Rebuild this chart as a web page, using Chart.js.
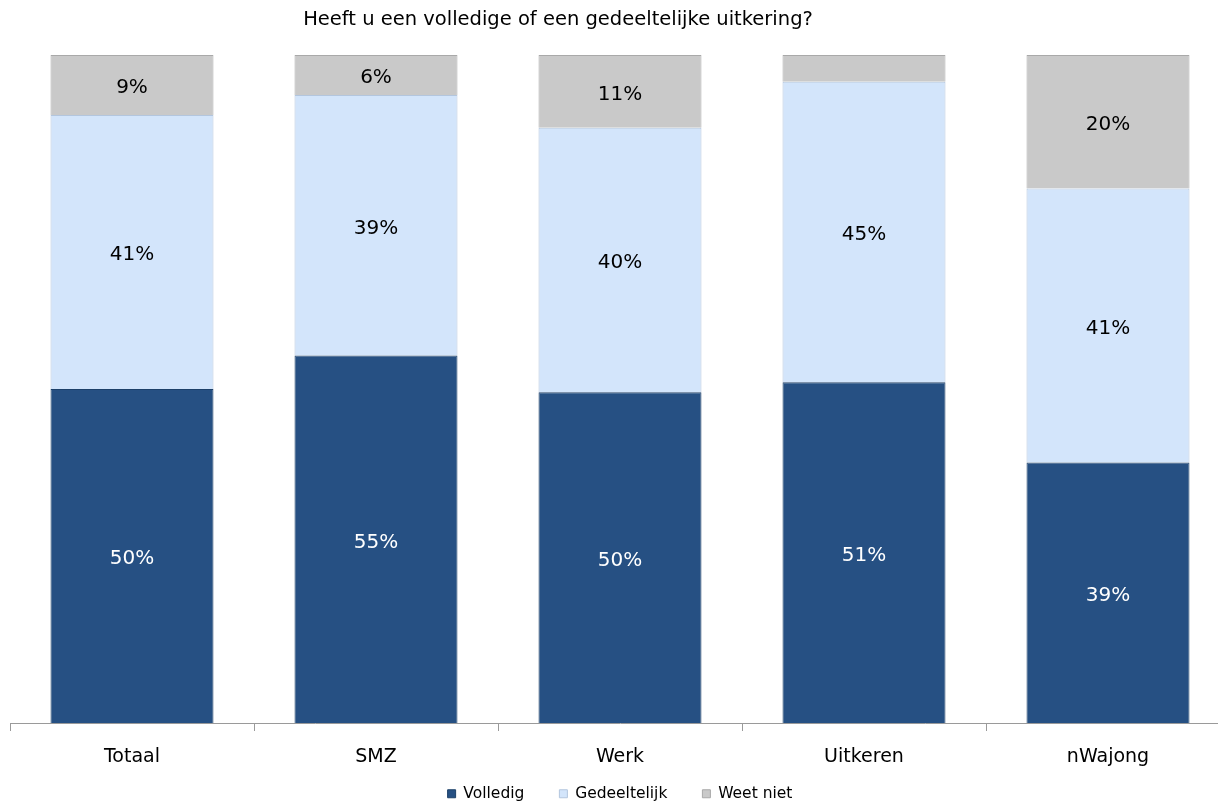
<!DOCTYPE html>
<html>
<head>
<meta charset="utf-8">
<script src="https://cdn.jsdelivr.net/npm/chart.js@4/dist/chart.umd.min.js"></script>
<style>
    html, body { margin: 0; padding: 0; background: #fff; overflow: hidden; }
    #wrap { width: 1240px; height: 802px; }
</style>
</head>
<body>
<div id="wrap"><canvas id="myChart"></canvas></div>
<script>
var categories = ['Totaal', 'SMZ', 'Werk', 'Uitkeren', 'nWajong'];
var volledig = [50, 55, 50, 51, 39];
var gedeeltelijk = [41, 39, 40, 45, 41];
var weetNiet = [9, 6, 11, 4, 20];
var chartTitle = 'Heeft u een volledige of een gedeeltelijke uitkering?';

// bars are stacked to 100%, so scale each column to its own total
var totals = categories.map(function(c, i) {
    return volledig[i] + gedeeltelijk[i] + weetNiet[i];
});
function share(values) {
    return values.map(function(v, i) { return v * 100 / totals[i]; });
}

// percentage label in the middle of each segment
var segmentLabels = {
    id: 'segmentLabels',
    afterDatasetsDraw: function(chart) {
        var ctx = chart.ctx;
        ctx.save();
        ctx.font = '20px "DejaVu Sans"';
        ctx.textAlign = 'center';
        ctx.textBaseline = 'middle';
        chart.data.datasets.forEach(function(ds, di) {
            chart.getDatasetMeta(di).data.forEach(function(bar, i) {
                var raw = ds.raw[i];
                if (raw < 5) return;
                ctx.fillStyle = di === 0 ? '#ffffff' : '#000000';
                ctx.fillText(raw + '%', bar.x, (bar.y + bar.base) / 2 + 3);
            });
        });
        ctx.restore();
    }
};

// title sits a bit left of centre in the original
var titlePlugin = {
    id: 'titlePlugin',
    afterDraw: function(chart) {
        var ctx = chart.ctx;
        ctx.save();
        ctx.font = '19.5px "DejaVu Sans"';
        ctx.fillStyle = '#000';
        ctx.textAlign = 'center';
        ctx.textBaseline = 'middle';
        ctx.fillText(chartTitle, 558, 20);
        ctx.restore();
    }
};

// the x axis box is kept short so the legend sits close; let its labels hang below it
var axisClip = {
    id: 'axisClip',
    afterLayout: function(chart) {
        chart.scales.x.bottom = chart.height;
    }
};

var ctx = document.getElementById('myChart').getContext('2d');
var myChart = new Chart(ctx, {
    type: 'bar',
    data: {
        labels: categories,
        datasets: [{
            label: 'Volledig',
            data: share(volledig),
            raw: volledig,
            backgroundColor: '#265083',
            borderColor: '#1d4069',
            borderWidth: 1
        }, {
            label: 'Gedeeltelijk',
            data: share(gedeeltelijk),
            raw: gedeeltelijk,
            backgroundColor: '#d3e5fb',
            borderColor: '#b3c6de',
            borderWidth: 1
        }, {
            label: 'Weet niet',
            data: share(weetNiet),
            raw: weetNiet,
            backgroundColor: '#c9c9c9',
            borderColor: '#a9a9a9',
            borderWidth: 1
        }]
    },
    options: {
        responsive: true,
        maintainAspectRatio: false,
        animation: false,
        layout: { padding: { top: 55, left: 10, right: 10, bottom: 0 } },
        datasets: { bar: { barPercentage: 0.668, categoryPercentage: 1 } },
        plugins: {
            title: { display: false },
            legend: {
                position: 'bottom',
                maxHeight: 51,
                labels: {
                    color: '#000',
                    font: { family: 'DejaVu Sans', size: 15.5 },
                    boxWidth: 8,
                    boxHeight: 8,
                    padding: 35
                }
            },
            tooltip: { enabled: false }
        },
        scales: {
            x: {
                stacked: true,
                border: { color: '#9a9a9a' },
                grid: {
                    drawOnChartArea: false,
                    drawTicks: true,
                    tickLength: 8,
                    color: '#9a9a9a'
                },
                ticks: {
                    color: '#000',
                    font: { family: 'DejaVu Sans', size: 19 },
                    padding: 15
                },
                afterFit: function(scale) { scale.height = 28; }
            },
            y: {
                stacked: true,
                display: false,
                min: 0,
                max: 100
            }
        }
    },
    plugins: [segmentLabels, titlePlugin, axisClip]
});
</script>
</body>
</html>
